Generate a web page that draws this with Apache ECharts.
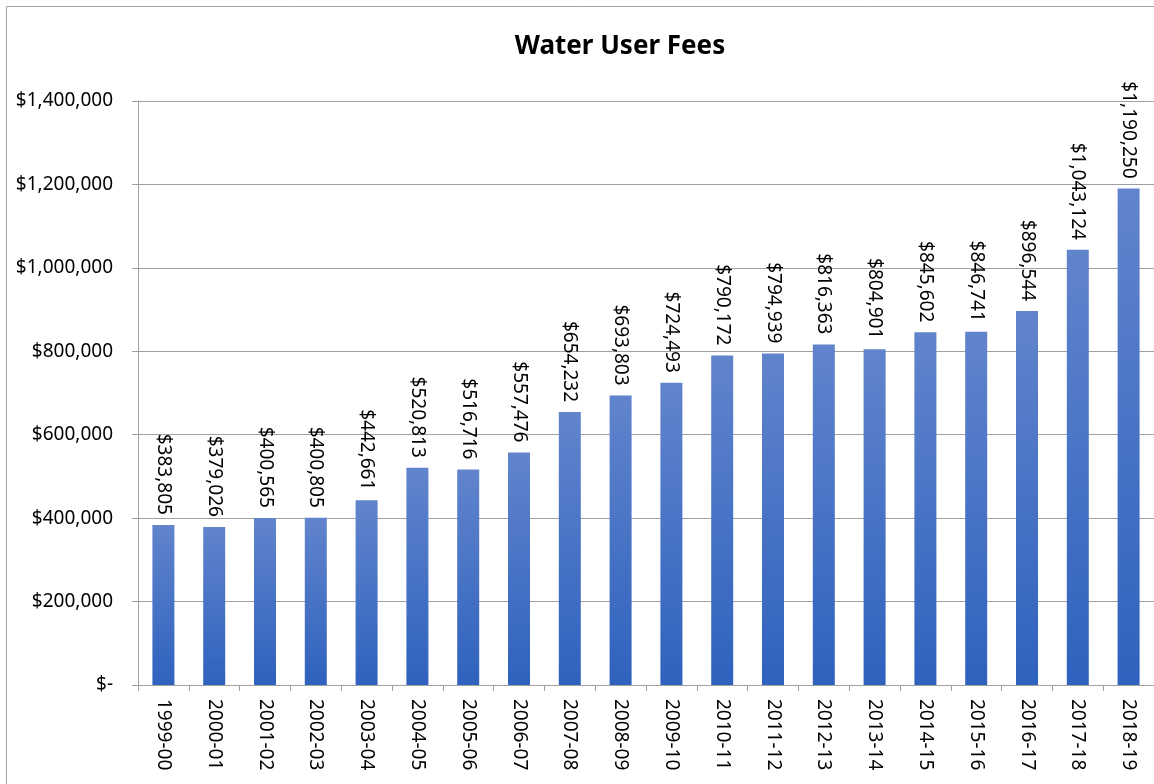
<!DOCTYPE html>
<html><head><meta charset="utf-8">
<script src="https://cdn.jsdelivr.net/npm/echarts@6/dist/echarts.min.js"></script>
<style>html,body{margin:0;padding:0;background:#fff}#c{width:1154px;height:784px}</style>
</head><body><div id="c"></div>
<script>
const categories = ['1999-00','2000-01','2001-02','2002-03','2003-04','2004-05','2005-06','2006-07','2007-08','2008-09','2009-10','2010-11','2011-12','2012-13','2013-14','2014-15','2015-16','2016-17','2017-18','2018-19'];
const fees = [383805,379026,400565,400805,442661,520813,516716,557476,654232,693803,724493,790172,794939,816363,804901,845602,846741,896544,1043124,1190250];
const yTicks = {min:0, max:1400000, interval:200000};
const titleText = 'Water User Fees';

const fmt = v => v === 0 ? '$-' : '$' + v.toLocaleString('en-US');
const font = 'Noto Sans';
const chart = echarts.init(document.getElementById('c'), null, {renderer:'canvas'});
chart.setOption({
  animation:false,
  backgroundColor:'#fff',
  graphic:[{type:'rect', shape:{x:6.5,y:6.5,width:1160,height:800}, style:{fill:'none', stroke:'#a0a0a0', lineWidth:1}, silent:true, z:-1}],
  title:{text:titleText, left:615, top:29, textAlign:'center', textStyle:{fontFamily:font, fontWeight:'bold', fontSize:26, color:'#000'}},
  grid:{left:138, top:101, width:1020, height:584, containLabel:false},
  xAxis:{type:'category', data:categories,
    axisLine:{lineStyle:{color:'#a0a0a0'}},
    axisTick:{show:true, length:6, lineStyle:{color:'#a0a0a0'}},
    axisLabel:{rotate:-90, interval:0, margin:14, fontFamily:font, fontSize:19, color:'#000'}},
  yAxis:{type:'value', min:yTicks.min, max:yTicks.max, interval:yTicks.interval,
    axisLine:{show:true, lineStyle:{color:'#a0a0a0'}},
    axisTick:{show:true, length:6, lineStyle:{color:'#a0a0a0'}},
    splitLine:{lineStyle:{color:'#a0a0a0'}},
    axisLabel:{formatter:fmt, margin:25, fontFamily:font, fontSize:19, color:'#000'}},
  series:[{type:'bar', data:fees, barWidth:22,
    itemStyle:{color:new echarts.graphic.LinearGradient(0,0,0,1,[{offset:0,color:'#6184cc'},{offset:1,color:'#2f62be'}])},
    label:{show:true, position:'top', rotate:-90, align:'right', verticalAlign:'middle', distance:10,
      formatter:p=>fmt(p.value), fontFamily:font, fontSize:19, color:'#000'}}]
});
</script></body></html>
